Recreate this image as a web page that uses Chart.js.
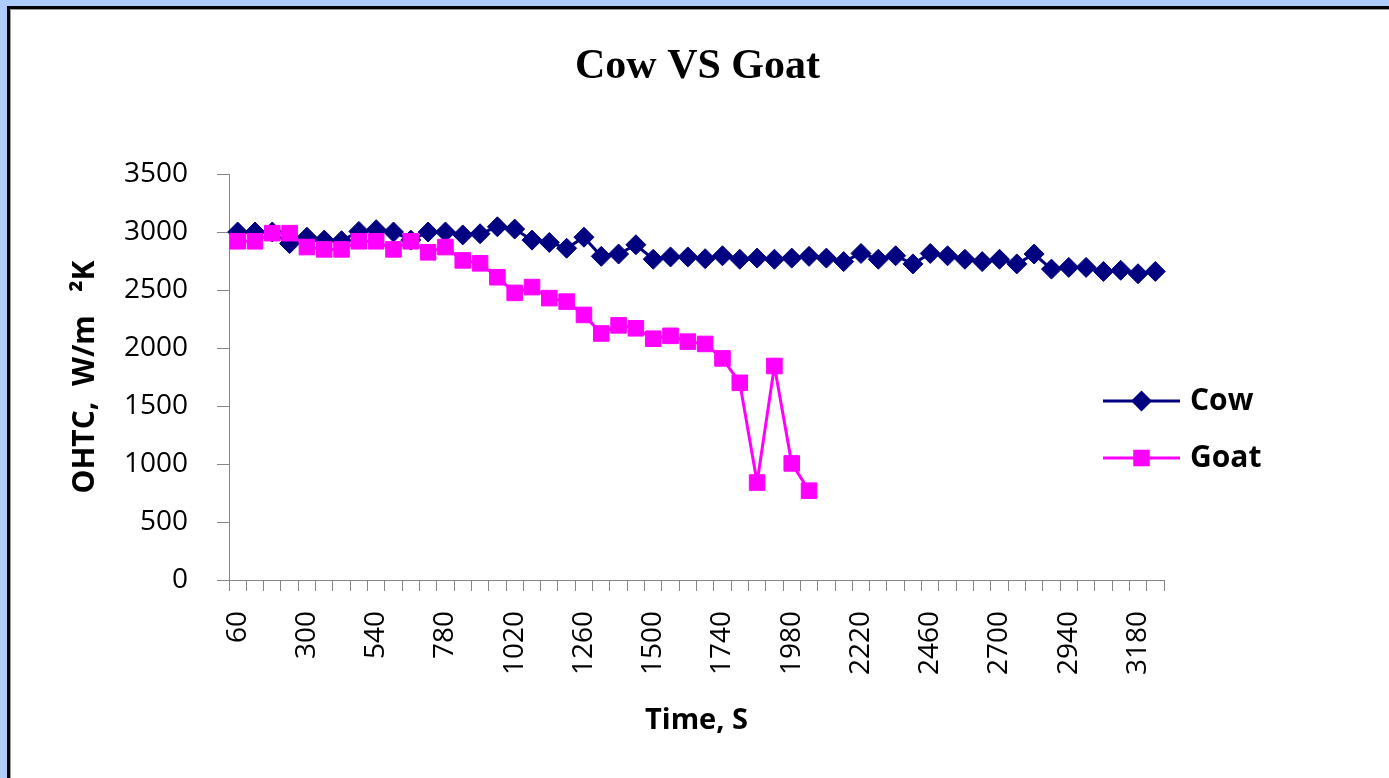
<!DOCTYPE html>
<html>
<head>
<meta charset="utf-8">
<title>Cow VS Goat</title>
<script src="https://cdn.jsdelivr.net/npm/chart.js@4.4.1/dist/chart.umd.min.js"></script>
<style>
  html, body { margin: 0; padding: 0; }
  body { width: 1389px; height: 778px; background: #aecbf9; position: relative; overflow: hidden; }
  #frame { position: absolute; left: 7px; top: 6px; right: 0; bottom: 0; border-left: 3px solid #000; border-top: 3px solid #000; }
  #inner { position: absolute; left: 0; top: 0; right: 0; bottom: 0; border-left: 1px solid #9a9a9a; border-top: 1px solid #9a9a9a; background: #fff; }
  #chart { position: absolute; left: 0; top: 0; }
</style>
</head>
<body>
<div id="frame"><div id="inner"></div></div>
<canvas id="chart" width="1389" height="778"></canvas>
<script>
// time in seconds (category axis)
const times = ['60', '120', '180', '240', '300', '360', '420', '480', '540', '600',
    '660', '720', '780', '840', '900', '960', '1020', '1080', '1140', '1200',
    '1260', '1320', '1380', '1440', '1500', '1560', '1620', '1680', '1740', '1800',
    '1860', '1920', '1980', '2040', '2100', '2160', '2220', '2280', '2340', '2400',
    '2460', '2520', '2580', '2640', '2700', '2760', '2820', '2880', '2940', '3000',
    '3060', '3120', '3180', '3240'];

// OHTC, W/m2K
const cow = [3000, 3000, 3000, 2900, 2955, 2930, 2925, 3005, 3020, 3000,
    2930, 3000, 3000, 2975, 2985, 3045, 3025, 2930, 2910, 2860,
    2955, 2790, 2810, 2890, 2765, 2785, 2785, 2770, 2795, 2765,
    2775, 2765, 2775, 2790, 2775, 2745, 2815, 2765, 2795, 2725,
    2815, 2795, 2765, 2745, 2765, 2725, 2810, 2680, 2695, 2695,
    2660, 2670, 2640, 2660];

const goat = [2920, 2920, 2990, 2990, 2870, 2850, 2850, 2920, 2920, 2850,
    2920, 2825, 2870, 2755, 2730, 2610, 2475, 2525, 2430, 2400,
    2285, 2125, 2195, 2170, 2080, 2105, 2055, 2035, 1910, 1700,
    840, 1845, 1005, 770];

const seriesNames = ['Cow', 'Goat'];

const tickFont = { family: "'Open Sans', sans-serif", size: 28 };
const boldFont = size => ({ family: "'Open Sans', sans-serif", size: size, weight: 'bold' });

// legend drawn as line + marker, like the spreadsheet one
const sideLegend = {
    id: 'sideLegend',
    afterDraw(chart, args, opts) {
        const ctx = chart.ctx;
        ctx.save();
        chart.data.datasets.forEach((ds, i) => {
            const y = opts.y + i * opts.gap;
            ctx.strokeStyle = ds.borderColor;
            ctx.lineWidth = ds.borderWidth;
            ctx.beginPath();
            ctx.moveTo(opts.x, y);
            ctx.lineTo(opts.x + opts.lineLen, y);
            ctx.stroke();
            const cx = opts.x + opts.lineLen / 2;
            ctx.fillStyle = ds.pointBackgroundColor;
            ctx.beginPath();
            if (ds.pointStyle === 'rectRot') {
                const r = ds.pointRadius + 0.5;
                ctx.moveTo(cx - r, y);
                ctx.lineTo(cx, y - r);
                ctx.lineTo(cx + r, y);
                ctx.lineTo(cx, y + r);
                ctx.closePath();
            } else {
                const s = ds.pointRadius * Math.SQRT1_2 + 0.5;
                ctx.rect(cx - s, y - s, 2 * s, 2 * s);
            }
            ctx.fill();
            ctx.fillStyle = '#000';
            ctx.font = 'bold 30px "Open Sans", sans-serif';
            ctx.textAlign = 'left';
            ctx.textBaseline = 'middle';
            ctx.fillText(ds.label, opts.x + opts.lineLen + 10, y);
        });
        ctx.restore();
    }
};

new Chart(document.getElementById('chart').getContext('2d'), {
    type: 'line',
    data: {
        labels: times,
        datasets: [{
            label: seriesNames[0],
            data: cow,
            borderColor: '#000080',
            backgroundColor: '#000080',
            pointBackgroundColor: '#000080',
            pointBorderColor: '#000080',
            borderWidth: 3,
            pointStyle: 'rectRot',
            pointRadius: 10,
            pointBorderWidth: 1,
            tension: 0,
            order: 2
        }, {
            label: seriesNames[1],
            data: goat,
            borderColor: '#ff00ff',
            backgroundColor: '#ff00ff',
            pointBackgroundColor: '#ff00ff',
            pointBorderColor: '#ff00ff',
            borderWidth: 3,
            pointStyle: 'rect',
            pointRadius: 11,
            pointBorderWidth: 1,
            tension: 0,
            order: 1
        }]
    },
    options: {
        responsive: false,
        animation: false,
        events: [],
        devicePixelRatio: 1,
        layout: { padding: { left: 6, right: 0, top: 0, bottom: 0 } },
        plugins: {
            legend: { display: false },
            tooltip: { enabled: false },
            title: {
                display: true,
                text: 'Cow VS Goat',
                color: '#000',
                font: { family: "'Liberation Serif', 'Times New Roman', serif", size: 42, weight: 'bold', lineHeight: 1.2 },
                padding: { top: 42, bottom: 81.6 }
            },
            sideLegend: { x: 1103, y: 401, gap: 57, lineLen: 77 }
        },
        scales: {
            x: {
                offset: true,
                grid: { offset: true, drawOnChartArea: false, tickLength: 11, color: '#868686' },
                border: { color: '#868686', width: 1 },
                ticks: {
                    autoSkip: false,
                    minRotation: 90,
                    maxRotation: 90,
                    padding: 20,
                    color: '#000',
                    font: tickFont,
                    callback: function (value, index) {
                        return index % 4 === 0 ? this.getLabelForValue(value) : '';
                    }
                },
                title: {
                    display: true,
                    text: 'Time, S',
                    color: '#000',
                    font: boldFont(29),
                    padding: { top: 0, bottom: 40 }
                },
                afterFit: scale => { scale.height = 198; }
            },
            y: {
                min: 0,
                max: 3500,
                grid: { drawOnChartArea: false, tickLength: 12, color: '#868686' },
                border: { color: '#868686', width: 1 },
                ticks: {
                    stepSize: 500,
                    padding: 29,
                    color: '#000',
                    font: tickFont,
                    callback: value => String(value)
                },
                title: {
                    display: true,
                    text: 'OHTC,  W/m   \u00b2K',
                    color: '#000',
                    font: boldFont(30),
                    padding: { top: 61, bottom: 0 }
                },
                afterFit: scale => { scale.width = 223; }
            },
            // empty box on the right that keeps room for the legend
            legendSpace: {
                type: 'linear',
                position: 'right',
                display: true,
                grid: { display: false },
                border: { display: false },
                ticks: { display: false },
                afterFit: scale => { scale.width = 225; }
            }
        }
    },
    plugins: [sideLegend]
});
</script>
</body>
</html>
